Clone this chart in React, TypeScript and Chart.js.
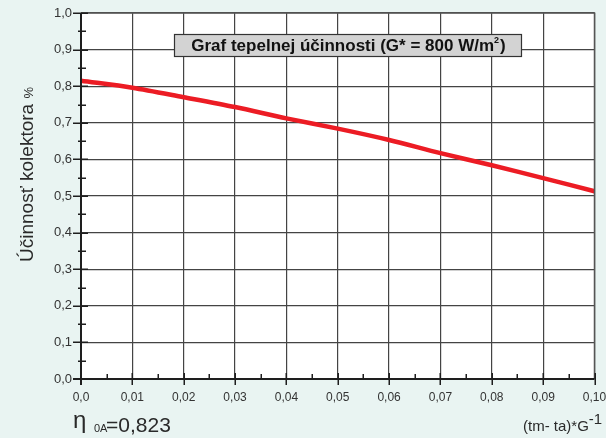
import React, { useEffect, useRef } from "react";
import { Chart, registerables } from "chart.js";

Chart.register(...registerables);

const xValues = [0, 0.01, 0.02, 0.03, 0.04, 0.05, 0.06, 0.07, 0.08, 0.09, 0.1];
const efficiency = [0.815, 0.796, 0.77, 0.743, 0.712, 0.684, 0.653, 0.617, 0.584, 0.549, 0.513];
const xTickLabels = ["0,0", "0,01", "0,02", "0,03", "0,04", "0,05", "0,06", "0,07", "0,08", "0,09", "0,10"];
const yTickLabels = ["0,0", "0,1", "0,2", "0,3", "0,4", "0,5", "0,6", "0,7", "0,8", "0,9", "1,0"];
const xMinorTicks = [0.005, 0.015, 0.025, 0.035, 0.045, 0.055, 0.065, 0.075, 0.085, 0.095];
const yMinorTicks = [0.05, 0.15, 0.25, 0.35, 0.45, 0.55, 0.65, 0.75, 0.85, 0.95];

const chartTitle = "Graf tepelnej účinnosti (G* = 800 W/m";
const yTitle = "Účinnosť kolektora ";
const FONT = "'Liberation Sans', Arial, sans-serif";

const bgPlugin = {
  id: "bg",
  beforeDraw(chart: any) {
    const { ctx, width, height, chartArea } = chart;
    ctx.save();
    ctx.fillStyle = "#e9f4f2";
    ctx.fillRect(0, 0, width, height);
    ctx.fillStyle = "#ffffff";
    ctx.fillRect(chartArea.left, chartArea.top, chartArea.right - chartArea.left, chartArea.bottom - chartArea.top);
    ctx.restore();
  },
};

const decorPlugin = {
  id: "decor",
  afterDraw(chart: any) {
    const { ctx, chartArea } = chart;
    const xs = chart.scales.x;
    const ys = chart.scales.y;
    const { left, right, top, bottom } = chartArea;
    ctx.save();
    // top & right border
    ctx.strokeStyle = "#555";
    ctx.lineWidth = 1.5;
    ctx.beginPath();
    ctx.moveTo(left, top);
    ctx.lineTo(right, top);
    ctx.lineTo(right, bottom);
    ctx.stroke();
    // axes
    ctx.strokeStyle = "#1e1e1e";
    ctx.lineWidth = 2;
    ctx.beginPath();
    ctx.moveTo(left, top);
    ctx.lineTo(left, bottom + 6);
    ctx.moveTo(left - 8, bottom);
    ctx.lineTo(right, bottom);
    ctx.stroke();
    // major ticks
    ctx.lineWidth = 1.5;
    ctx.beginPath();
    yTickLabels.forEach((_, i) => {
      const y = Math.round(ys.getPixelForValue(i / 10)) + 0.25;
      ctx.moveTo(left - 8, y);
      ctx.lineTo(left + 7, y);
    });
    xTickLabels.forEach((_, i) => {
      const x = Math.round(xs.getPixelForValue(i / 100)) + 0.25;
      ctx.moveTo(x, bottom - 6);
      ctx.lineTo(x, bottom + 6);
    });
    yMinorTicks.forEach((v) => {
      const y = Math.round(ys.getPixelForValue(v)) + 0.25;
      ctx.moveTo(left - 3, y);
      ctx.lineTo(left + 5, y);
    });
    xMinorTicks.forEach((v) => {
      const x = Math.round(xs.getPixelForValue(v)) + 0.25;
      ctx.moveTo(x, bottom - 5);
      ctx.lineTo(x, bottom);
    });
    ctx.stroke();

    // title box
    const bx = 174, by = 34, bw = 347, bh = 22;
    ctx.fillStyle = "#d3d3d3";
    ctx.fillRect(bx, by, bw, bh);
    ctx.strokeStyle = "#333";
    ctx.lineWidth = 1.2;
    ctx.strokeRect(bx + 0.5, by + 0.5, bw, bh);
    ctx.fillStyle = "#111";
    ctx.font = `bold 17px ${FONT}`;
    ctx.textBaseline = "alphabetic";
    const w1 = ctx.measureText(chartTitle).width;
    ctx.font = `bold 9px ${FONT}`;
    const w2 = ctx.measureText("2").width;
    ctx.font = `bold 17px ${FONT}`;
    const w3 = ctx.measureText(")").width;
    const total = w1 + w2 + 1 + w3;
    let tx = bx + bw / 2 - total / 2 + 1;
    const tb = by + 17;
    ctx.fillText(chartTitle, tx, tb);
    tx += w1;
    ctx.font = `bold 9px ${FONT}`;
    ctx.fillText("2", tx, tb - 8);
    tx += w2 + 1;
    ctx.font = `bold 17px ${FONT}`;
    ctx.fillText(")", tx, tb);

    // y title
    ctx.fillStyle = "#2a2a2a";
    ctx.save();
    ctx.translate(33, 262);
    ctx.rotate(-Math.PI / 2);
    ctx.font = `19px ${FONT}`;
    ctx.fillText(yTitle, 0, 0);
    const yw = ctx.measureText(yTitle).width;
    ctx.font = `13px ${FONT}`;
    ctx.fillText("%", yw, 0);
    ctx.restore();

    // eta label
    ctx.font = `24px ${FONT}`;
    ctx.fillText("η", 73, 428);
    ctx.font = `11px ${FONT}`;
    ctx.fillText("0A", 94, 432);
    ctx.font = `21px ${FONT}`;
    ctx.fillText("=0,823", 106, 432);

    // x title
    ctx.font = `15px ${FONT}`;
    const xt = "(tm- ta)*G";
    ctx.fillText(xt, 523, 431);
    const xtw = ctx.measureText(xt).width;
    ctx.font = `15px ${FONT}`;
    ctx.fillText("-1", 523 + xtw, 424);
    ctx.restore();
  },
};

export default function App() {
  const ref = useRef<HTMLCanvasElement | null>(null);
  useEffect(() => {
    document.body.style.margin = "0";
    const canvas = ref.current;
    if (!canvas) return;
    const chart = new Chart(canvas, {
      type: "line",
      data: {
        datasets: [
          {
            data: xValues.map((x, i) => ({ x, y: efficiency[i] })),
            borderColor: "#ec1c24",
            borderWidth: 4.5,
            pointRadius: 0,
            tension: 0.3,
            borderCapStyle: "round",
            fill: false,
          },
        ],
      },
      options: {
        animation: false,
        responsive: false,
        layout: { padding: { left: 0, top: 13, right: 11.5, bottom: 0 } },
        plugins: { legend: { display: false }, tooltip: { enabled: false }, title: { display: false } },
        scales: {
          x: {
            type: "linear",
            min: 0,
            max: 0.1,
            afterFit: (s: any) => {
              s.height = 59;
              s.paddingLeft = 0;
              s.paddingRight = 0;
            },
            grid: { color: "#444", lineWidth: 1.2, drawTicks: false },
            border: { display: false },
            ticks: {
              stepSize: 0.01,
              autoSkip: false,
              maxRotation: 0,
              padding: 11,
              color: "#333",
              font: { family: FONT, size: 12 },
              callback: (v: any) => xTickLabels[Math.round(Number(v) * 100)] ?? "",
            },
          },
          y: {
            min: 0,
            max: 1,
            afterFit: (s: any) => {
              s.width = 81;
              s.paddingTop = 0;
              s.paddingBottom = 0;
            },
            grid: { color: "#444", lineWidth: 1.2, drawTicks: false },
            border: { display: false },
            ticks: {
              stepSize: 0.1,
              autoSkip: false,
              padding: 9,
              color: "#333",
              font: { family: FONT, size: 13 },
              callback: (v: any) => yTickLabels[Math.round(Number(v) * 10)] ?? "",
            },
          },
        },
      },
      plugins: [bgPlugin, decorPlugin],
    } as any);
    return () => chart.destroy();
  }, []);
  return (
    <div style={{ width: 606, height: 438 }}>
      <canvas ref={ref} width={606} height={438} style={{ display: "block" }} />
    </div>
  );
}
